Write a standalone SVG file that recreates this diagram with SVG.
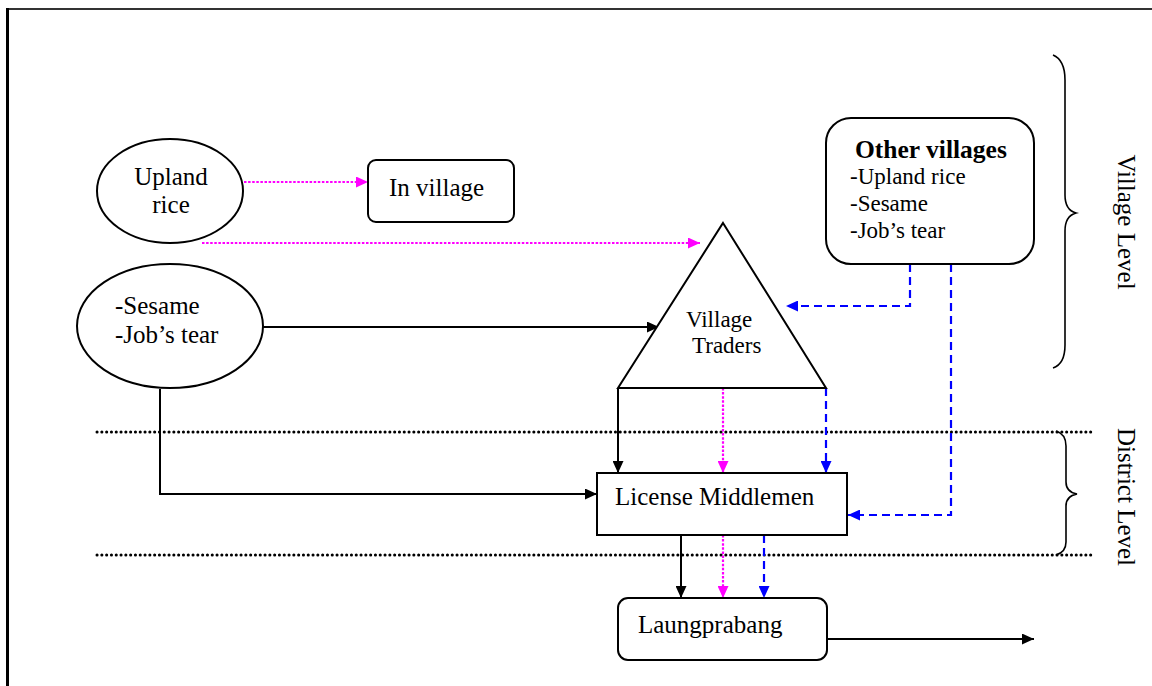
<svg xmlns="http://www.w3.org/2000/svg" width="1152" height="686" viewBox="0 0 1152 686">
  <style>
    .shape { fill: #ffffff; stroke: #000000; stroke-width: 2; }
    .txt { font-family: "Liberation Serif", "Times New Roman", serif; fill: #000000; }
    .big { font-size: 25px; }
    .mid { font-size: 23px; }
    .bold { font-size: 25.5px; font-weight: bold; }
    .solid { fill: none; stroke: #000000; stroke-width: 2; }
    .pink { fill: none; stroke: #ff00ff; stroke-width: 2.2; stroke-dasharray: 2.5 1.6; }
    .blue { fill: none; stroke: #0000ff; stroke-width: 2.2; stroke-dasharray: 8 5; }
    .level { fill: none; stroke: #000000; stroke-width: 3; stroke-linecap: round; stroke-dasharray: 0.1 4.7; }
    .brace { fill: none; stroke: #000000; stroke-width: 1.6; }
  </style>
  <defs>
    <marker id="arrBlack" viewBox="0 0 12 11" refX="12" refY="5.5" markerWidth="12" markerHeight="11" markerUnits="userSpaceOnUse" orient="auto">
      <path d="M0,0 L12,5.5 L0,11 Z" fill="#000000"/>
    </marker>
    <marker id="arrPink" viewBox="0 0 12 11" refX="12" refY="5.5" markerWidth="12" markerHeight="11" markerUnits="userSpaceOnUse" orient="auto">
      <path d="M0,0 L12,5.5 L0,11 Z" fill="#ff00ff"/>
    </marker>
    <marker id="arrBlue" viewBox="0 0 12 11" refX="12" refY="5.5" markerWidth="12" markerHeight="11" markerUnits="userSpaceOnUse" orient="auto">
      <path d="M0,0 L12,5.5 L0,11 Z" fill="#0000ff"/>
    </marker>
  </defs>

  <rect x="0" y="0" width="1152" height="686" fill="#ffffff"/>

  <!-- page frame -->
  <g id="frame">
    <line x1="6" y1="9" x2="1152" y2="9" stroke="#333333" stroke-width="2"/>
    <line x1="7.5" y1="8" x2="7.5" y2="686" stroke="#000000" stroke-width="3"/>
  </g>

  <!-- level separators and braces -->
  <g id="levels">
    <line class="level" x1="97" y1="432" x2="1093" y2="432"/>
    <line class="level" x1="97" y1="555" x2="1093" y2="555"/>
    <path class="brace" d="M1053,55 Q1065,60 1065,80 L1065,195 Q1065,210 1076,213 Q1065,216 1065,231 L1065,345 Q1065,364 1053,368"/>
    <path class="brace" d="M1056,431 Q1066,434 1066,446 L1066,482 Q1066,492 1077,494 Q1066,496 1066,506 L1066,542 Q1066,552 1056,555"/>
    <text class="txt big" transform="translate(1118,222) rotate(90)" text-anchor="middle">Village Level</text>
    <text class="txt big" transform="translate(1118,497) rotate(90)" text-anchor="middle">District Level</text>
  </g>

  <!-- connectors -->
  <g id="connectors">
    <line class="pink" x1="244" y1="182" x2="368" y2="182" marker-end="url(#arrPink)"/>
    <line class="pink" x1="202" y1="243" x2="700" y2="243" marker-end="url(#arrPink)"/>
    <line class="solid" x1="263" y1="327" x2="659" y2="327" marker-end="url(#arrBlack)"/>
    <polyline class="blue" points="910,264 910,306 786,306" marker-end="url(#arrBlue)"/>
    <polyline class="blue" points="951,264 951,515 848,515" marker-end="url(#arrBlue)"/>
    <line class="solid" x1="618" y1="388" x2="618" y2="473" marker-end="url(#arrBlack)"/>
    <line class="pink" x1="723" y1="388" x2="723" y2="473" marker-end="url(#arrPink)"/>
    <line class="blue" x1="826" y1="388" x2="826" y2="473" marker-end="url(#arrBlue)"/>
    <polyline class="solid" points="160,389 160,494 597,494" marker-end="url(#arrBlack)"/>
    <line class="solid" x1="681" y1="535" x2="681" y2="598" marker-end="url(#arrBlack)"/>
    <line class="pink" x1="723" y1="535" x2="723" y2="598" marker-end="url(#arrPink)"/>
    <line class="blue" x1="764" y1="535" x2="764" y2="598" marker-end="url(#arrBlue)"/>
    <line class="solid" x1="827" y1="639" x2="1034" y2="639" marker-end="url(#arrBlack)"/>
  </g>

  <g id="upland-rice">
    <ellipse class="shape" cx="170" cy="191" rx="73" ry="52"/>
    <text class="txt big" x="171" y="185" text-anchor="middle">Upland</text>
    <text class="txt big" x="171" y="213" text-anchor="middle">rice</text>
  </g>

  <g id="in-village">
    <rect class="shape" x="368" y="160" width="146" height="62" rx="8"/>
    <text class="txt big" x="389" y="196">In village</text>
  </g>

  <g id="sesame">
    <ellipse class="shape" cx="170" cy="326" rx="93" ry="62"/>
    <text class="txt big" x="115" y="314">-Sesame</text>
    <text class="txt big" x="115" y="343">-Job’s tear</text>
  </g>

  <g id="village-traders">
    <polygon class="shape" points="723,223 826,388 618,388"/>
    <text class="txt mid" x="686" y="327">Village</text>
    <text class="txt mid" x="692" y="353">Traders</text>
  </g>

  <g id="other-villages">
    <rect class="shape" x="826" y="118" width="208" height="146" rx="25"/>
    <text class="txt bold" x="855" y="158">Other villages</text>
    <text class="txt mid" x="850" y="184">-Upland rice</text>
    <text class="txt mid" x="850" y="211">-Sesame</text>
    <text class="txt mid" x="850" y="238">-Job’s tear</text>
  </g>

  <g id="license-middlemen">
    <rect class="shape" x="597" y="473" width="250" height="62"/>
    <text class="txt big" x="615" y="505">License Middlemen</text>
  </g>

  <g id="laungprabang">
    <rect class="shape" x="618" y="598" width="209" height="62" rx="10"/>
    <text class="txt big" x="638" y="633">Laungprabang</text>
  </g>
</svg>
